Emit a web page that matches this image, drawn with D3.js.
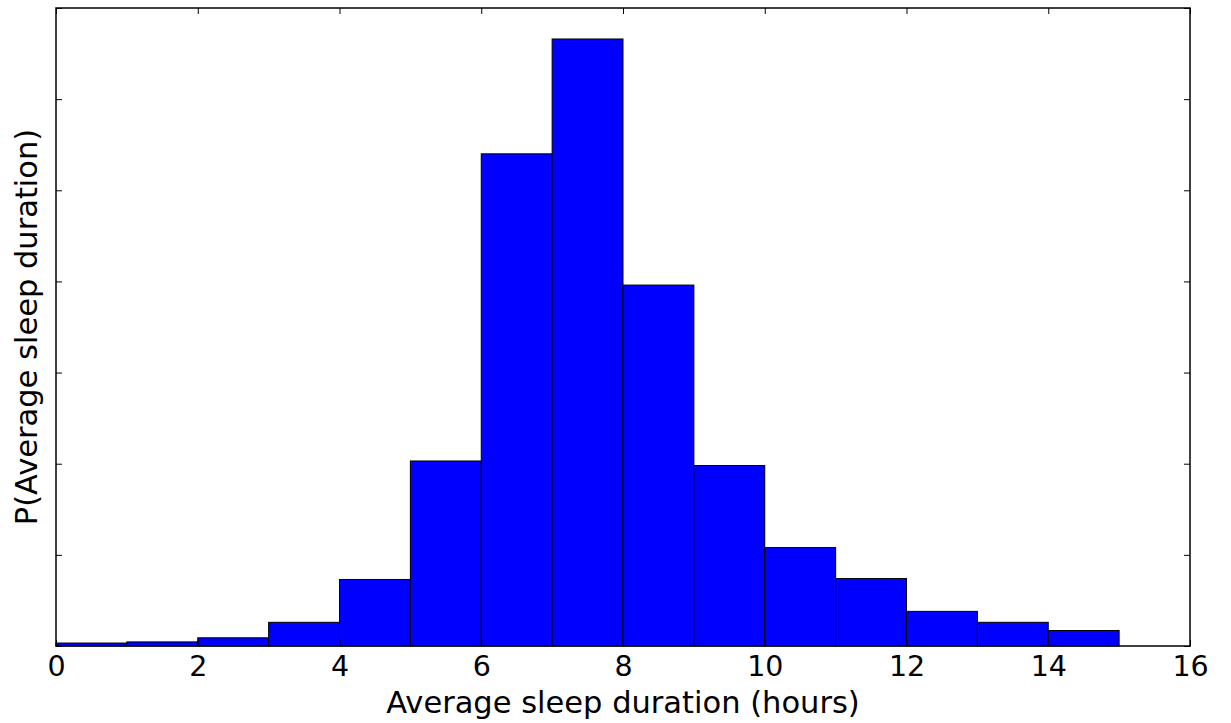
<!DOCTYPE html>
<html><head><meta charset="utf-8">
<script src="https://cdn.jsdelivr.net/npm/d3@7"></script>
<style>body{margin:0;background:#fff}svg{display:block}text{font-family:"DejaVu Sans",sans-serif}</style>
</head><body>
<script>
const binStarts = [0,1,2,3,4,5,6,7,8,9,10,11,12,13,14];
const binWidth = 1;
const density = [0.0013,0.0018,0.0036,0.0104,0.0292,0.0812,0.216,0.2664,0.1584,0.0792,0.0432,0.0296,0.0152,0.0104,0.0068];
const xTicks = [0,2,4,6,8,10,12,14,16];
const yTicks = [0,0.04,0.08,0.12,0.16,0.20,0.24,0.28];
const xLabel = "Average sleep duration (hours)";
const yLabel = "P(Average sleep duration)";

const W=1231,H=723;
const m={l:56,r:41,t:8,b:77};
const svg=d3.select("body").append("svg").attr("width",W).attr("height",H);
const x=d3.scaleLinear().domain([0,16]).range([m.l,W-m.r]);
const y=d3.scaleLinear().domain([0,0.28]).range([H-m.b,m.t]);

svg.append("g").selectAll("rect").data(binStarts).join("rect")
  .attr("x",d=>x(d)).attr("width",d=>x(d+binWidth)-x(d))
  .attr("y",(d,i)=>y(density[i])).attr("height",(d,i)=>y(0)-y(density[i]))
  .attr("fill","#0000ff").attr("stroke","#000").attr("stroke-width",1);

const tl=6;
const gb=svg.append("g").attr("transform",`translate(0,${y(0)})`)
  .call(d3.axisBottom(x).tickValues(xTicks).tickSize(-tl).tickPadding(10).tickFormat(d3.format("d")));
const gt=svg.append("g").attr("transform",`translate(0,${y(0.28)})`)
  .call(d3.axisTop(x).tickValues(xTicks).tickSize(-tl).tickFormat(""));
const gl=svg.append("g").attr("transform",`translate(${x(0)},0)`)
  .call(d3.axisLeft(y).tickValues(yTicks).tickSize(-tl).tickFormat(""));
const gr=svg.append("g").attr("transform",`translate(${x(16)},0)`)
  .call(d3.axisRight(y).tickValues(yTicks).tickSize(-tl).tickFormat(""));
[gb,gt,gl,gr].forEach(g=>{g.select(".domain").remove();g.selectAll("line").attr("stroke","#000").attr("stroke-width",1);});
gb.selectAll("text").attr("font-size",28.5).attr("fill","#000").attr("font-family","DejaVu Sans");

svg.append("rect").attr("x",x(0)).attr("y",y(0.28)).attr("width",x(16)-x(0)).attr("height",y(0)-y(0.28))
  .attr("fill","none").attr("stroke","#000").attr("stroke-width",1.5);

svg.append("text").attr("x",(x(0)+x(16))/2).attr("y",713).attr("text-anchor","middle")
  .attr("font-size",30.5).text(xLabel);
svg.append("text").attr("transform",`translate(37,${(y(0)+y(0.28))/2}) rotate(-90)`).attr("text-anchor","middle")
  .attr("font-size",30.5).text(yLabel);
</script>
</body></html>
